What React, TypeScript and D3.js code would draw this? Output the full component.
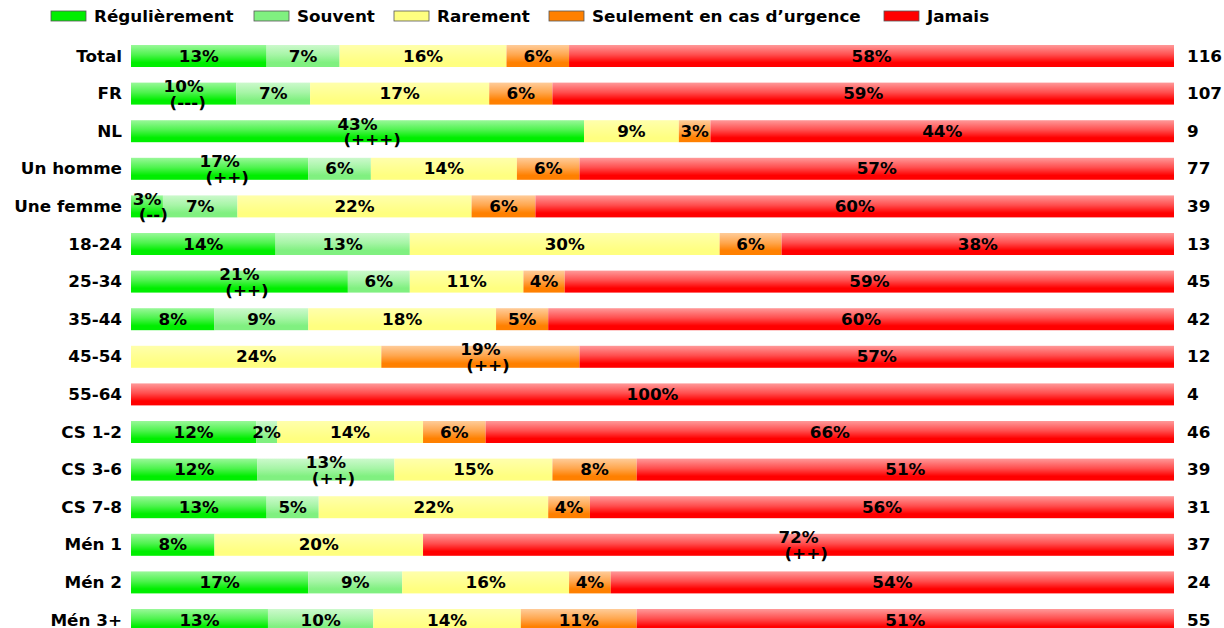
import React from "react";
import * as d3 from "d3";

const categories = ["Total", "FR", "NL", "Un homme", "Une femme", "18-24", "25-34", "35-44", "45-54", "55-64", "CS 1-2", "CS 3-6", "CS 7-8", "Mén 1", "Mén 2", "Mén 3+"];
const seriesNames = ["Régulièrement", "Souvent", "Rarement", "Seulement en cas d\u2019urgence", "Jamais"];
const seriesColors = ["#00ee00", "#80f080", "#ffff80", "#ff8000", "#ff0000"];

const regulierement = [13, 10, 43, 17, 3, 14, 21, 8, 0, 0, 12, 12, 13, 8, 17, 13];
const souvent = [7, 7, 0, 6, 7, 13, 6, 9, 0, 0, 2, 13, 5, 0, 9, 10];
const rarement = [16, 17, 9, 14, 22, 30, 11, 18, 24, 0, 14, 15, 22, 20, 16, 14];
const urgence = [6, 6, 3, 6, 6, 6, 4, 5, 19, 0, 6, 8, 4, 0, 4, 11];
const jamais = [58, 59, 44, 57, 60, 38, 59, 60, 57, 100, 66, 51, 56, 72, 54, 51];
const effectifs = [116, 107, 9, 77, 39, 13, 45, 42, 12, 4, 46, 39, 31, 37, 24, 55];

// significance markers: [category index, series index, marker]
const significance: [number, number, string][] = [
  [1, 0, "(---)"],
  [2, 0, "(+++)"],
  [3, 0, "(++)"],
  [4, 0, "(--)"],
  [6, 0, "(++)"],
  [8, 3, "(++)"],
  [11, 1, "(++)"],
  [13, 4, "(++)"],
];

const W = 1224;
const H = 628;
const FONT = "'DejaVu Sans', Verdana, sans-serif";
const FS = 15;
const SX = 1.12;

let ctx: CanvasRenderingContext2D | null = null;
function measure(t: string): number {
  if (!ctx) {
    const c = document.createElement("canvas");
    ctx = c.getContext("2d");
  }
  if (!ctx) return t.length * 9;
  ctx.font = `bold ${FS}px 'DejaVu Sans'`;
  return ctx.measureText(t).width;
}

function lighten(c: string, k: number): string {
  return d3.interpolateRgb(c, "#ffffff")(k);
}

const T = ({ x, y, anchor, children }: { x: number; y: number; anchor: string; children: React.ReactNode }) => (
  <text
    transform={`translate(${x},${y}) scale(${SX},1)`}
    textAnchor={anchor as any}
    fontFamily={FONT}
    fontWeight="bold"
    fontSize={FS}
    fill="#000"
  >
    {children}
  </text>
);

export default function App() {
  const series = [regulierement, souvent, rarement, urgence, jamais];
  const x0 = 131;
  const x1 = 1174;
  const y = d3
    .scaleBand<string>()
    .domain(categories)
    .range([37.2, 37.2 + 37.6 * categories.length])
    .paddingInner(0.415)
    .paddingOuter(0.2075);
  const bw = y.bandwidth();

  const sigMap = new Map<string, string>();
  significance.forEach(([c, s, m]) => sigMap.set(`${c}-${s}`, m));

  // legend positions
  const legendSwatchX = [51, 254, 394, 549, 884];

  return (
    <svg width={W} height={H} style={{ position: "absolute", left: 0, top: 0, background: "#fff" }}>
      <defs>
        {seriesColors.map((c, i) => (
          <linearGradient key={i} id={`grad${i}`} x1="0" y1="0" x2="0" y2="1">
            <stop offset="0" stopColor={lighten(c, i === 2 ? 0.35 : 0.6)} />
            <stop offset="0.45" stopColor={lighten(c, i === 2 ? 0.15 : 0.3)} />
            <stop offset="0.8" stopColor={c} />
            <stop offset="1" stopColor={c} />
          </linearGradient>
        ))}
      </defs>

      {/* legend */}
      {seriesNames.map((n, i) => (
        <g key={n}>
          <rect x={legendSwatchX[i]} y={11} width={35} height={10} fill={seriesColors[i]} stroke="#555" strokeWidth={0.8} />
          <T x={legendSwatchX[i] + 43} y={21.5} anchor="start">{n}</T>
        </g>
      ))}

      {categories.map((cat, ci) => {
        const total = series.reduce((a, s) => a + s[ci], 0);
        const xs = d3.scaleLinear().domain([0, total]).range([x0, x1]);
        const top = y(cat) as number;
        const cy = top + bw / 2;
        let acc = 0;
        const segs = series.map((s, si) => {
          const v = s[ci];
          const start = acc;
          acc += v;
          return { si, v, a: xs(start), b: xs(acc) };
        });
        return (
          <g key={cat}>
            <T x={122} y={cy + 5.5} anchor="end">{cat}</T>
            {segs.map(
              (sg) =>
                sg.v > 0 && (
                  <rect key={sg.si} x={sg.a} y={top} width={sg.b - sg.a} height={bw} fill={`url(#grad${sg.si})`} />
                )
            )}
            {segs.map((sg) => {
              if (sg.v <= 0) return null;
              const label = `${sg.v}%`;
              const mid = (sg.a + sg.b) / 2;
              const m = sigMap.get(`${ci}-${sg.si}`);
              if (!m) {
                return (
                  <T key={`l${sg.si}`} x={mid} y={cy + 5.5} anchor="middle">{label}</T>
                );
              }
              const w1 = measure(label) * SX;
              return (
                <g key={`l${sg.si}`}>
                  <T x={mid} y={cy - 1.5} anchor="middle">{label}</T>
                  <T x={mid - w1 / 2 + 6} y={cy + 14} anchor="start">{m}</T>
                </g>
              );
            })}
            <T x={1187} y={cy + 5.5} anchor="start">{effectifs[ci]}</T>
          </g>
        );
      })}
    </svg>
  );
}
